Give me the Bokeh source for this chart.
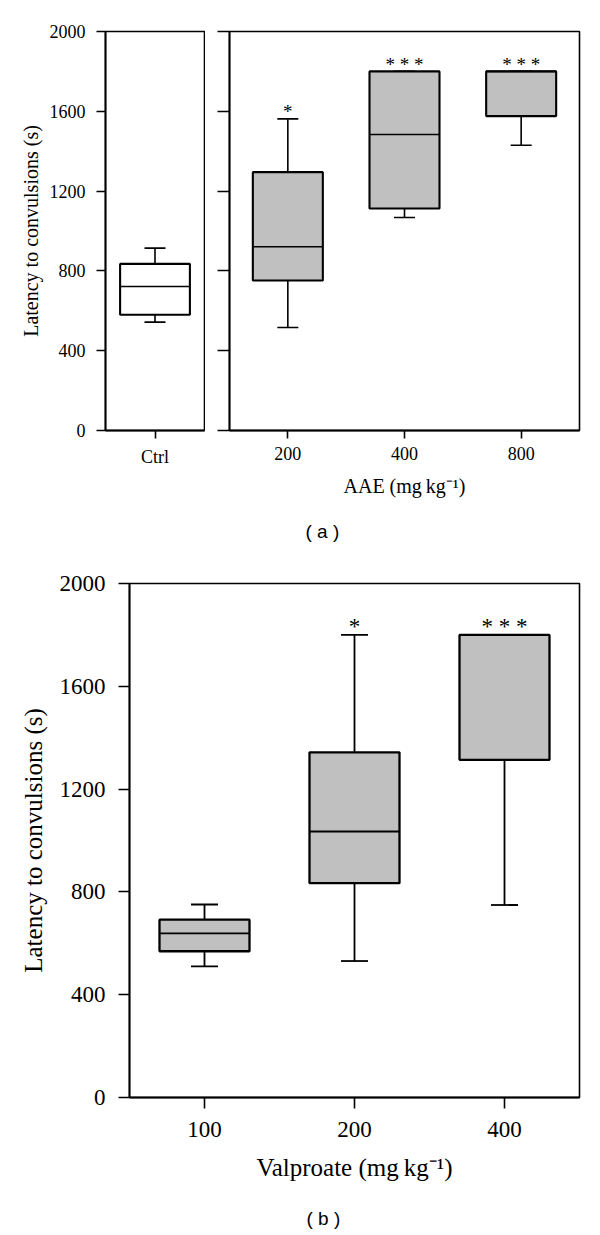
from bokeh.plotting import figure
from bokeh.layouts import column, row
from bokeh.models import FixedTicker, Title, Range1d, FactorRange
from bokeh.core.properties import value
from bokeh.embed import file_html
from bokeh.resources import INLINE

SERIF = "Liberation Serif"
SANS = "Liberation Sans"

# ---- data ----
ctrl_cats = ["Ctrl"]
ctrl_min = [543]
ctrl_q1 = [580]
ctrl_med = [722]
ctrl_q3 = [835]
ctrl_max = [914]

aae_cats = ["200", "400", "800"]
aae_min = [516, 1068, 1430]
aae_q1 = [752, 1113, 1576]
aae_med = [921, 1484, 1800]
aae_q3 = [1295, 1800, 1800]
aae_max = [1562, 1800, 1800]
aae_sig = ["*", "* * *", "* * *"]

vpa_cats = ["100", "200", "400"]
vpa_min = [510, 531, 749]
vpa_q1 = [569, 834, 1314]
vpa_med = [639, 1035, 1800]
vpa_q3 = [692, 1343, 1800]
vpa_max = [751, 1800, 1800]
vpa_sig = ["", "*", "* * *"]

y_ticks = [0, 400, 800, 1200, 1600, 2000]
y_label = "Latency to convulsions (s)"


def make_fig(cats, width, height, bl, br, bt, bb):
    p = figure(x_range=FactorRange(*cats), y_range=Range1d(0, 2000),
               width=width, height=height, toolbar_location=None,
               output_backend="svg", title=None,
               min_border_left=bl, min_border_right=br,
               min_border_top=bt, min_border_bottom=bb)
    p.xgrid.visible = False
    p.ygrid.visible = False
    p.outline_line_color = "black"
    p.outline_line_width = 1.6
    p.outline_line_alpha = 1
    p.background_fill_color = "white"
    p.border_fill_color = "white"
    p.yaxis.ticker = FixedTicker(ticks=y_ticks)
    for ax in p.axis:
        ax.axis_line_width = 1.8
        ax.axis_line_color = "black"
        ax.major_tick_line_width = 1.6
        ax.major_tick_line_color = "black"
        ax.major_tick_in = 0
        ax.minor_tick_line_color = None
        ax.major_label_text_font = SERIF
        ax.major_label_text_color = "black"
        ax.axis_label_text_font = SERIF
        ax.axis_label_text_font_style = "normal"
        ax.axis_label_text_color = "black"
    return p


def draw_boxes(p, cats, lo, q1, med, q3, hi, width, cap, fill, lw):
    p.segment(x0=cats, y0=q3, x1=cats, y1=hi, line_color="black", line_width=lw)
    p.segment(x0=cats, y0=lo, x1=cats, y1=q1, line_color="black", line_width=lw)
    p.scatter(x=cats, y=hi, marker="dash", size=cap, line_color="black", line_width=lw)
    p.scatter(x=cats, y=lo, marker="dash", size=cap, line_color="black", line_width=lw)
    p.vbar(x=cats, width=width, bottom=q1, top=q3, fill_color=fill,
           line_color="black", line_width=lw + 0.5)
    p.vbar(x=cats, width=width, bottom=med, top=med, fill_alpha=0,
           line_color="black", line_width=lw)


def draw_sig(p, cats, tops, sig, size, yoff):
    keep = [i for i, s in enumerate(sig) if s]
    p.text(x=[cats[i] for i in keep], y=[tops[i] for i in keep],
           text=[sig[i] for i in keep], text_align="center",
           text_baseline="alphabetic", text_font=value(SERIF),
           text_font_size=size, y_offset=yoff, text_color="black")


# ---- panel (a): control ----
pa = make_fig(ctrl_cats, 205, 548, 105, 1, 31, 118)
draw_boxes(pa, ctrl_cats, ctrl_min, ctrl_q1, ctrl_med, ctrl_q3, ctrl_max,
           0.705, 21, "white", 1.6)
pa.yaxis.major_tick_out = 9
pa.yaxis.major_label_standoff = 11
pa.yaxis.major_label_text_font_size = "18px"
pa.yaxis.axis_label = y_label
pa.yaxis.axis_label_text_font_size = "20px"
pa.yaxis.axis_label_standoff = 5
pa.xaxis.major_tick_out = 8
pa.xaxis.major_label_standoff = 8
pa.xaxis.major_label_text_font_size = "18px"

# ---- panel (a): AAE ----
pb = make_fig(aae_cats, 379, 548, 24, 5, 31, 118)
draw_boxes(pb, aae_cats, aae_min, aae_q1, aae_med, aae_q3, aae_max,
           0.6, 21, "#c0c0c0", 1.6)
draw_sig(pb, aae_cats, aae_max, aae_sig, "19px", -7)
pb.yaxis.major_tick_out = 12
pb.yaxis.major_label_standoff = 0
pb.yaxis.major_label_text_font_size = "1px"
pb.yaxis.major_label_text_color = None
pb.xaxis.major_tick_out = 8
pb.xaxis.major_label_standoff = 8
pb.xaxis.major_label_text_font_size = "18px"
pb.xaxis.axis_label = "AAE (mg\u2009kg\u207b\u00b9)"
pb.xaxis.axis_label_text_font_size = "20px"
pb.xaxis.axis_label_standoff = 12
pb.add_layout(Title(text="\n( a )", align="left", offset=76, text_font=SANS,
                    text_font_size="19px", text_font_style="normal",
                    text_color="black", standoff=-4), "below")

# ---- panel (b): valproate ----
pc = make_fig(vpa_cats, 585, 686, 129, 6, 35, 137)
draw_boxes(pc, vpa_cats, vpa_min, vpa_q1, vpa_med, vpa_q3, vpa_max,
           0.6, 27, "#c0c0c0", 1.8)
draw_sig(pc, vpa_cats, vpa_max, vpa_sig, "23px", -8)
pc.yaxis.major_tick_out = 11
pc.yaxis.major_label_standoff = 13
pc.yaxis.major_label_text_font_size = "23px"
pc.yaxis.axis_label = y_label
pc.yaxis.axis_label_text_font_size = "25px"
pc.yaxis.axis_label_standoff = 10
pc.xaxis.major_tick_out = 11
pc.xaxis.major_label_standoff = 13
pc.xaxis.major_label_text_font_size = "23px"
pc.xaxis.axis_label = "Valproate (mg\u2009kg\u207b\u00b9)"
pc.xaxis.axis_label_text_font_size = "25px"
pc.xaxis.axis_label_standoff = 14
pc.add_layout(Title(text="\n( b )", align="left", offset=177, text_font=SANS,
                    text_font_size="19px", text_font_style="normal",
                    text_color="black", standoff=2), "below")

layout = column(row(pa, pb), pc)
open("out.html", "w").write(file_html(layout, INLINE))
